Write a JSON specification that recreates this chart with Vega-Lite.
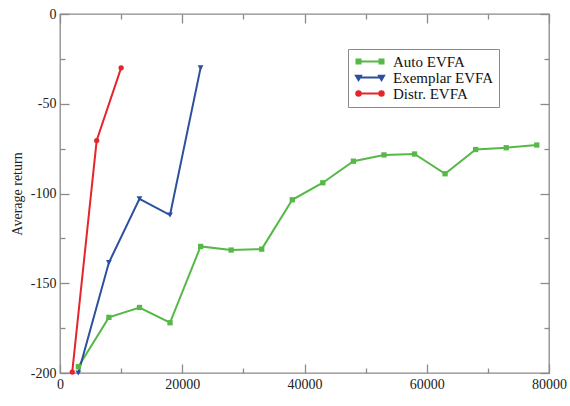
{
  "$schema": "https://vega.github.io/schema/vega-lite/v6.json",
  "width": 489,
  "height": 359,
  "autosize": {"type": "none"},
  "padding": {"left": 60, "top": 14, "right": 21, "bottom": 33},
  "background": "white",
  "config": {
    "view": {"stroke": "#8a8a8a", "strokeWidth": 1.3},
    "font": "Liberation Serif",
    "axis": {
      "domain": false,
      "grid": false,
      "tickColor": "#8a8a8a",
      "tickWidth": 1.3,
      "labelFont": "Liberation Serif",
      "labelFontSize": 14,
      "labelColor": "#222222",
      "labelFlush": false,
      "labelOverlap": false,
      "titleFont": "Liberation Serif",
      "titleFontSize": 14,
      "titleFontWeight": "normal",
      "titleColor": "#222222"
    }
  },
  "data": {
    "values": [
      {"series": "Auto EVFA", "size": 3000, "ret": -196.5},
      {"series": "Auto EVFA", "size": 8000, "ret": -169},
      {"series": "Auto EVFA", "size": 13000, "ret": -163.5},
      {"series": "Auto EVFA", "size": 18000, "ret": -172},
      {"series": "Auto EVFA", "size": 23000, "ret": -129.5},
      {"series": "Auto EVFA", "size": 28000, "ret": -131.5},
      {"series": "Auto EVFA", "size": 33000, "ret": -131},
      {"series": "Auto EVFA", "size": 38000, "ret": -103.5},
      {"series": "Auto EVFA", "size": 43000, "ret": -94},
      {"series": "Auto EVFA", "size": 48000, "ret": -82},
      {"series": "Auto EVFA", "size": 53000, "ret": -78.5},
      {"series": "Auto EVFA", "size": 58000, "ret": -78},
      {"series": "Auto EVFA", "size": 63000, "ret": -89},
      {"series": "Auto EVFA", "size": 68000, "ret": -75.5},
      {"series": "Auto EVFA", "size": 73000, "ret": -74.5},
      {"series": "Auto EVFA", "size": 78000, "ret": -73},
      {"series": "Exemplar EVFA", "size": 3000, "ret": -200},
      {"series": "Exemplar EVFA", "size": 8000, "ret": -138.5},
      {"series": "Exemplar EVFA", "size": 13000, "ret": -103},
      {"series": "Exemplar EVFA", "size": 18000, "ret": -112},
      {"series": "Exemplar EVFA", "size": 23000, "ret": -30},
      {"series": "Distr. EVFA", "size": 2000, "ret": -199.5},
      {"series": "Distr. EVFA", "size": 6000, "ret": -70.5},
      {"series": "Distr. EVFA", "size": 10000, "ret": -30}
    ]
  },
  "resolve": {"axis": {"x": "independent", "y": "independent"}},
  "layer": [
    {
      "mark": {"type": "line", "strokeWidth": 2},
      "encoding": {
        "x": {
          "field": "size", "type": "quantitative",
          "scale": {"domain": [0, 80000], "nice": false, "zero": false},
          "axis": {
            "orient": "bottom", "values": [0, 20000, 40000, 60000, 80000],
            "labelExpr": "'' + datum.value", "tickSize": -9, "labelPadding": 13,
            "title": "Training set size", "titleX": 244.5, "titleY": 388,
            "titleAlign": "center", "titleBaseline": "alphabetic"
          }
        },
        "y": {
          "field": "ret", "type": "quantitative",
          "scale": {"domain": [-200, 0], "nice": false, "zero": false},
          "axis": {
            "orient": "left", "values": [-200, -150, -100, -50, 0],
            "labelExpr": "'' + datum.value", "tickSize": -9, "labelPadding": 13,
            "title": "Average return", "titleX": -43, "titleY": 179.5,
            "titleAngle": -90, "titleAlign": "center", "titleBaseline": "middle"
          }
        },
        "color": {
          "field": "series", "type": "nominal",
          "scale": {
            "domain": ["Auto EVFA", "Exemplar EVFA", "Distr. EVFA"],
            "range": ["#56b947", "#2c4f9e", "#e6242b"]
          },
          "legend": {
            "orient": "none", "legendX": 288, "legendY": 35,
            "title": null, "strokeColor": "#8a8a8a", "fillColor": "white",
            "padding": 5, "labelFont": "Liberation Serif", "labelFontSize": 15,
            "labelColor": "#111111", "symbolSize": 100, "symbolStrokeWidth": 2,
            "rowPadding": -5, "labelOffset": 25,
            "encode": {
              "symbols": {
                "update": {
                  "shape": {"signal": "datum.value === 'Auto EVFA' ? 'M-0.4,0H4.2M-0.8,-0.4H0V0.4H-0.8ZM3.8,-0.4H4.6V0.4H3.8Z' : datum.value === 'Exemplar EVFA' ? 'M-0.4,0H4.2M-0.9,-0.35H0.1L-0.4,0.5ZM3.7,-0.35H4.7L4.2,0.5Z' : 'M-0.4,0H4.2M-0.85,0A0.45,0.45 0 1,1 0.05,0A0.45,0.45 0 1,1 -0.85,0ZM3.75,0A0.45,0.45 0 1,1 4.65,0A0.45,0.45 0 1,1 3.75,0Z'"},
                  "fill": {"signal": "scale('color', datum.value)"},
                  "stroke": {"signal": "scale('color', datum.value)"}
                }
              }
            }
          }
        }
      }
    },
    {
      "transform": [{"filter": "datum.series === 'Auto EVFA'"}],
      "mark": {"type": "point", "shape": "square", "filled": true, "opacity": 1, "size": 28},
      "encoding": {
        "x": {"field": "size", "type": "quantitative", "axis": null},
        "y": {"field": "ret", "type": "quantitative", "axis": null},
        "color": {"field": "series", "type": "nominal"}
      }
    },
    {
      "transform": [{"filter": "datum.series === 'Exemplar EVFA'"}],
      "mark": {"type": "point", "shape": "triangle-down", "filled": true, "opacity": 1, "size": 34},
      "encoding": {
        "x": {"field": "size", "type": "quantitative", "axis": null},
        "y": {"field": "ret", "type": "quantitative", "axis": null},
        "color": {"field": "series", "type": "nominal"}
      }
    },
    {
      "transform": [{"filter": "datum.series === 'Distr. EVFA'"}],
      "mark": {"type": "point", "shape": "circle", "filled": true, "opacity": 1, "size": 28},
      "encoding": {
        "x": {"field": "size", "type": "quantitative", "axis": null},
        "y": {"field": "ret", "type": "quantitative", "axis": null},
        "color": {"field": "series", "type": "nominal"}
      }
    },
    {
      "mark": {"type": "point", "opacity": 0},
      "encoding": {
        "x": {
          "field": "size", "type": "quantitative",
          "axis": {"orient": "top", "values": [0, 20000, 40000, 60000, 80000], "labels": false, "tickSize": -9, "title": null}
        },
        "y": {
          "field": "ret", "type": "quantitative",
          "axis": {"orient": "right", "values": [-200, -150, -100, -50, 0], "labels": false, "tickSize": -9, "title": null}
        }
      }
    },
    {
      "mark": {"type": "point", "opacity": 0},
      "encoding": {
        "x": {
          "field": "size", "type": "quantitative",
          "axis": {"orient": "bottom", "values": [10000, 30000, 50000, 70000], "labels": false, "tickSize": -5, "title": null}
        },
        "y": {
          "field": "ret", "type": "quantitative",
          "axis": {"orient": "left", "values": [-175, -125, -75, -25], "labels": false, "tickSize": -5, "title": null}
        }
      }
    },
    {
      "mark": {"type": "point", "opacity": 0},
      "encoding": {
        "x": {
          "field": "size", "type": "quantitative",
          "axis": {"orient": "top", "values": [10000, 30000, 50000, 70000], "labels": false, "tickSize": -5, "title": null}
        },
        "y": {
          "field": "ret", "type": "quantitative",
          "axis": {"orient": "right", "values": [-175, -125, -75, -25], "labels": false, "tickSize": -5, "title": null}
        }
      }
    }
  ]
}
